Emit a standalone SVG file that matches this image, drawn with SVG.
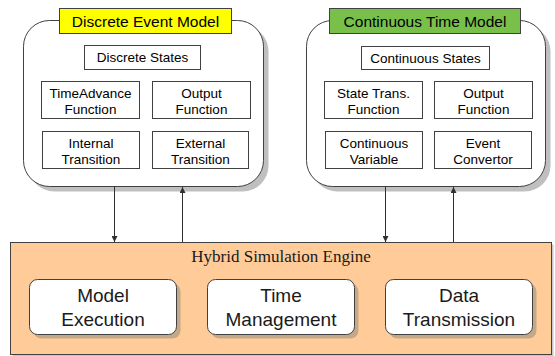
<svg xmlns="http://www.w3.org/2000/svg" width="555" height="356" viewBox="0 0 555 356">
  <style>
    .model { fill: #ffffff; stroke: #404040; stroke-width: 1; }
    .model-shadow { fill: #bfbfbf; }
    .title { stroke: #404040; stroke-width: 1; }
    .part { fill: #ffffff; stroke: #404040; stroke-width: 1; }
    .t-title { font-family: "Liberation Sans", Arial, sans-serif; font-size: 15.5px; fill: #000; text-anchor: middle; }
    .t-part { font-family: "Liberation Sans", Arial, sans-serif; font-size: 13.5px; fill: #000; text-anchor: middle; }
    .t-engine { font-family: "Liberation Serif", "Times New Roman", serif; font-size: 17px; fill: #1a1a1a; text-anchor: middle; }
    .t-svc { font-family: "Liberation Sans", Arial, sans-serif; font-size: 19px; fill: #1a1a1a; text-anchor: middle; }
    .engine { fill: #ffcc99; stroke: #404040; stroke-width: 1; }
    .svc { fill: #ffffff; stroke: #404040; stroke-width: 1; }
    .svc-shadow { fill: #c4a888; }
    .link { stroke: #303030; stroke-width: 1; fill: none; }
  </style>
  <defs>
    <marker id="arrow" viewBox="0 0 10 10" refX="10" refY="5" markerWidth="6" markerHeight="6" markerUnits="userSpaceOnUse" orient="auto">
      <path d="M0,0 L10,5 L0,10 z" fill="#303030"/>
    </marker>
  </defs>

  <!-- Discrete event model -->
  <g id="discrete-event-model">
    <rect class="model-shadow" x="28.5" y="25.5" width="240" height="166" rx="26"/>
    <rect class="model" x="23.5" y="20.5" width="240" height="166" rx="26"/>
    <rect class="title" x="59.5" y="8.5" width="172" height="25" fill="#ffff00"/>
    <text class="t-title" x="145.5" y="26.5">Discrete Event Model</text>
    <g id="discrete-states">
      <rect class="part" x="84.5" y="45.5" width="116" height="24"/>
      <text class="t-part" x="142.5" y="62">Discrete States</text>
    </g>
    <g id="time-advance-function">
      <rect class="part" x="41.5" y="81.5" width="98" height="37"/>
      <text class="t-part" x="90.5" y="98">TimeAdvance</text>
      <text class="t-part" x="90.5" y="113.5">Function</text>
    </g>
    <g id="de-output-function">
      <rect class="part" x="152.5" y="81.5" width="98" height="37"/>
      <text class="t-part" x="201.5" y="98">Output</text>
      <text class="t-part" x="201.5" y="113.5">Function</text>
    </g>
    <g id="internal-transition">
      <rect class="part" x="42.5" y="131.5" width="97" height="37"/>
      <text class="t-part" x="91" y="148">Internal</text>
      <text class="t-part" x="91" y="163.5">Transition</text>
    </g>
    <g id="external-transition">
      <rect class="part" x="152.5" y="131.5" width="96" height="37"/>
      <text class="t-part" x="200.5" y="148">External</text>
      <text class="t-part" x="200.5" y="163.5">Transition</text>
    </g>
  </g>

  <!-- Continuous time model -->
  <g id="continuous-time-model">
    <rect class="model-shadow" x="311.5" y="25.5" width="239" height="166" rx="26"/>
    <rect class="model" x="306.5" y="20.5" width="239" height="166" rx="26"/>
    <rect class="title" x="329.5" y="8.5" width="191" height="25" fill="#78c04a"/>
    <text class="t-title" x="425" y="26.5">Continuous Time Model</text>
    <g id="continuous-states">
      <rect class="part" x="361.5" y="46.5" width="128" height="23"/>
      <text class="t-part" x="425.5" y="62.5">Continuous States</text>
    </g>
    <g id="state-trans-function">
      <rect class="part" x="324.5" y="81.5" width="98" height="37"/>
      <text class="t-part" x="373.5" y="98">State Trans.</text>
      <text class="t-part" x="373.5" y="113.5">Function</text>
    </g>
    <g id="ct-output-function">
      <rect class="part" x="434.5" y="81.5" width="98" height="37"/>
      <text class="t-part" x="483.5" y="98">Output</text>
      <text class="t-part" x="483.5" y="113.5">Function</text>
    </g>
    <g id="continuous-variable">
      <rect class="part" x="325.5" y="131.5" width="97" height="37"/>
      <text class="t-part" x="374" y="148">Continuous</text>
      <text class="t-part" x="374" y="163.5">Variable</text>
    </g>
    <g id="event-convertor">
      <rect class="part" x="434.5" y="131.5" width="97" height="37"/>
      <text class="t-part" x="483" y="148">Event</text>
      <text class="t-part" x="483" y="163.5">Convertor</text>
    </g>
  </g>

  <!-- Hybrid simulation engine -->
  <g id="hybrid-simulation-engine">
    <rect x="12.5" y="244.5" width="541" height="112" fill="#c8c8c8"/>
    <rect class="engine" x="10.5" y="242.5" width="541" height="112"/>
    <text class="t-engine" x="281" y="262">Hybrid Simulation Engine</text>
    <g id="model-execution">
      <rect class="svc-shadow" x="33.5" y="283.5" width="147" height="55" rx="8"/>
      <rect class="svc" x="29.5" y="279.5" width="147" height="55" rx="8"/>
      <text class="t-svc" x="103" y="302">Model</text>
      <text class="t-svc" x="103" y="326">Execution</text>
    </g>
    <g id="time-management">
      <rect class="svc-shadow" x="211.5" y="283.5" width="147" height="55" rx="8"/>
      <rect class="svc" x="207.5" y="279.5" width="147" height="55" rx="8"/>
      <text class="t-svc" x="281" y="302">Time</text>
      <text class="t-svc" x="281" y="326">Management</text>
    </g>
    <g id="data-transmission">
      <rect class="svc-shadow" x="389.5" y="283.5" width="147" height="55" rx="8"/>
      <rect class="svc" x="385.5" y="279.5" width="147" height="55" rx="8"/>
      <text class="t-svc" x="459" y="302">Data</text>
      <text class="t-svc" x="459" y="326">Transmission</text>
    </g>
  </g>

  <!-- Connectors between models and engine -->
  <g id="connectors">
    <line class="link" x1="114.5" y1="187" x2="114.5" y2="242" marker-end="url(#arrow)"/>
    <line class="link" x1="182.5" y1="242" x2="182.5" y2="187" marker-end="url(#arrow)"/>
    <line class="link" x1="385.5" y1="187" x2="385.5" y2="242" marker-end="url(#arrow)"/>
    <line class="link" x1="453.5" y1="242" x2="453.5" y2="187" marker-end="url(#arrow)"/>
  </g>
</svg>
